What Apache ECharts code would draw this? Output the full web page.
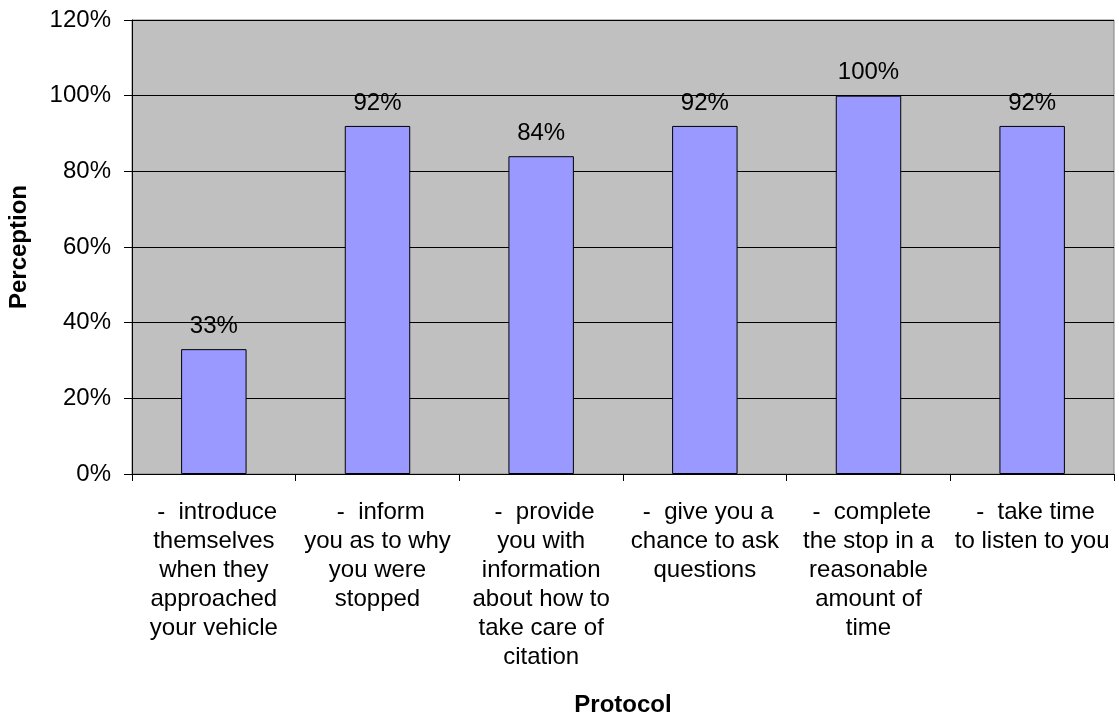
<!DOCTYPE html>
<html>
<head>
<meta charset="utf-8">
<script src="https://cdn.jsdelivr.net/npm/echarts@6/dist/echarts.min.js"></script>
<style>
  html, body { margin: 0; padding: 0; background: #ffffff; }
  #chart { width: 1119px; height: 719px; }
</style>
</head>
<body>
<div id="chart"></div>
<script>
// Protocol items (wrapped as displayed under each bar)
const categories = [
  ' -  introduce\nthemselves\nwhen they\napproached\nyour vehicle',
  ' -  inform\nyou as to why\nyou were\nstopped',
  ' -  provide\nyou with\ninformation\nabout how to\ntake care of\ncitation',
  ' -  give you a\nchance to ask\nquestions',
  ' -  complete\nthe stop in a\nreasonable\namount of\ntime',
  ' -  take time\nto listen to you'
];
// Share of respondents perceiving each protocol step (%)
const perception = [33, 92, 84, 92, 100, 92];
// Value axis range (%)
const yMin = 0, yMax = 120, yStep = 20;

const FONT = '"Liberation Sans", Arial, sans-serif';
const chart = echarts.init(document.getElementById('chart'), null, { renderer: 'canvas' });

chart.setOption({
  animation: false,
  backgroundColor: '#ffffff',
  grid: {
    left: 132, right: 5, top: 20, bottom: 245,
    outerBoundsMode: 'none',
    containLabel: false,
    show: true, backgroundColor: '#C0C0C0', borderColor: '#808080', borderWidth: 1
  },
  xAxis: {
    type: 'category',
    data: categories,
    name: 'Protocol',
    nameLocation: 'middle',
    nameGap: 219,
    nameTextStyle: { fontFamily: FONT, fontSize: 24, fontWeight: 'bold', color: '#000' },
    axisLine: { lineStyle: { color: '#000', width: 1 } },
    axisTick: { show: true, length: 7, lineStyle: { color: '#000' } },
    axisLabel: {
      interval: 0, margin: 24, fontFamily: FONT, fontSize: 24, color: '#000',
      lineHeight: 29, align: 'center'
    },
    splitLine: { show: false }
  },
  yAxis: {
    type: 'value',
    min: yMin, max: yMax, interval: yStep,
    name: 'Perception',
    nameLocation: 'middle',
    nameGap: 101,
    nameTextStyle: { fontFamily: FONT, fontSize: 24, fontWeight: 'bold', color: '#000' },
    axisLine: { show: true, lineStyle: { color: '#000', width: 1 } },
    axisTick: { show: true, length: 8, lineStyle: { color: '#000' } },
    axisLabel: {
      fontFamily: FONT, fontSize: 24, color: '#000', margin: 21,
      formatter: v => v + '%'
    },
    splitLine: { show: true, lineStyle: { color: '#000', width: 1 } }
  },
  series: [{
    type: 'bar',
    data: perception,
    barWidth: '40%',
    itemStyle: { color: '#9999FF', borderColor: '#000', borderWidth: 1 },
    label: {
      show: true, position: 'top', distance: 11,
      fontFamily: FONT, fontSize: 24, color: '#000',
      formatter: p => p.value + '%'
    }
  }]
});
</script>
</body>
</html>
